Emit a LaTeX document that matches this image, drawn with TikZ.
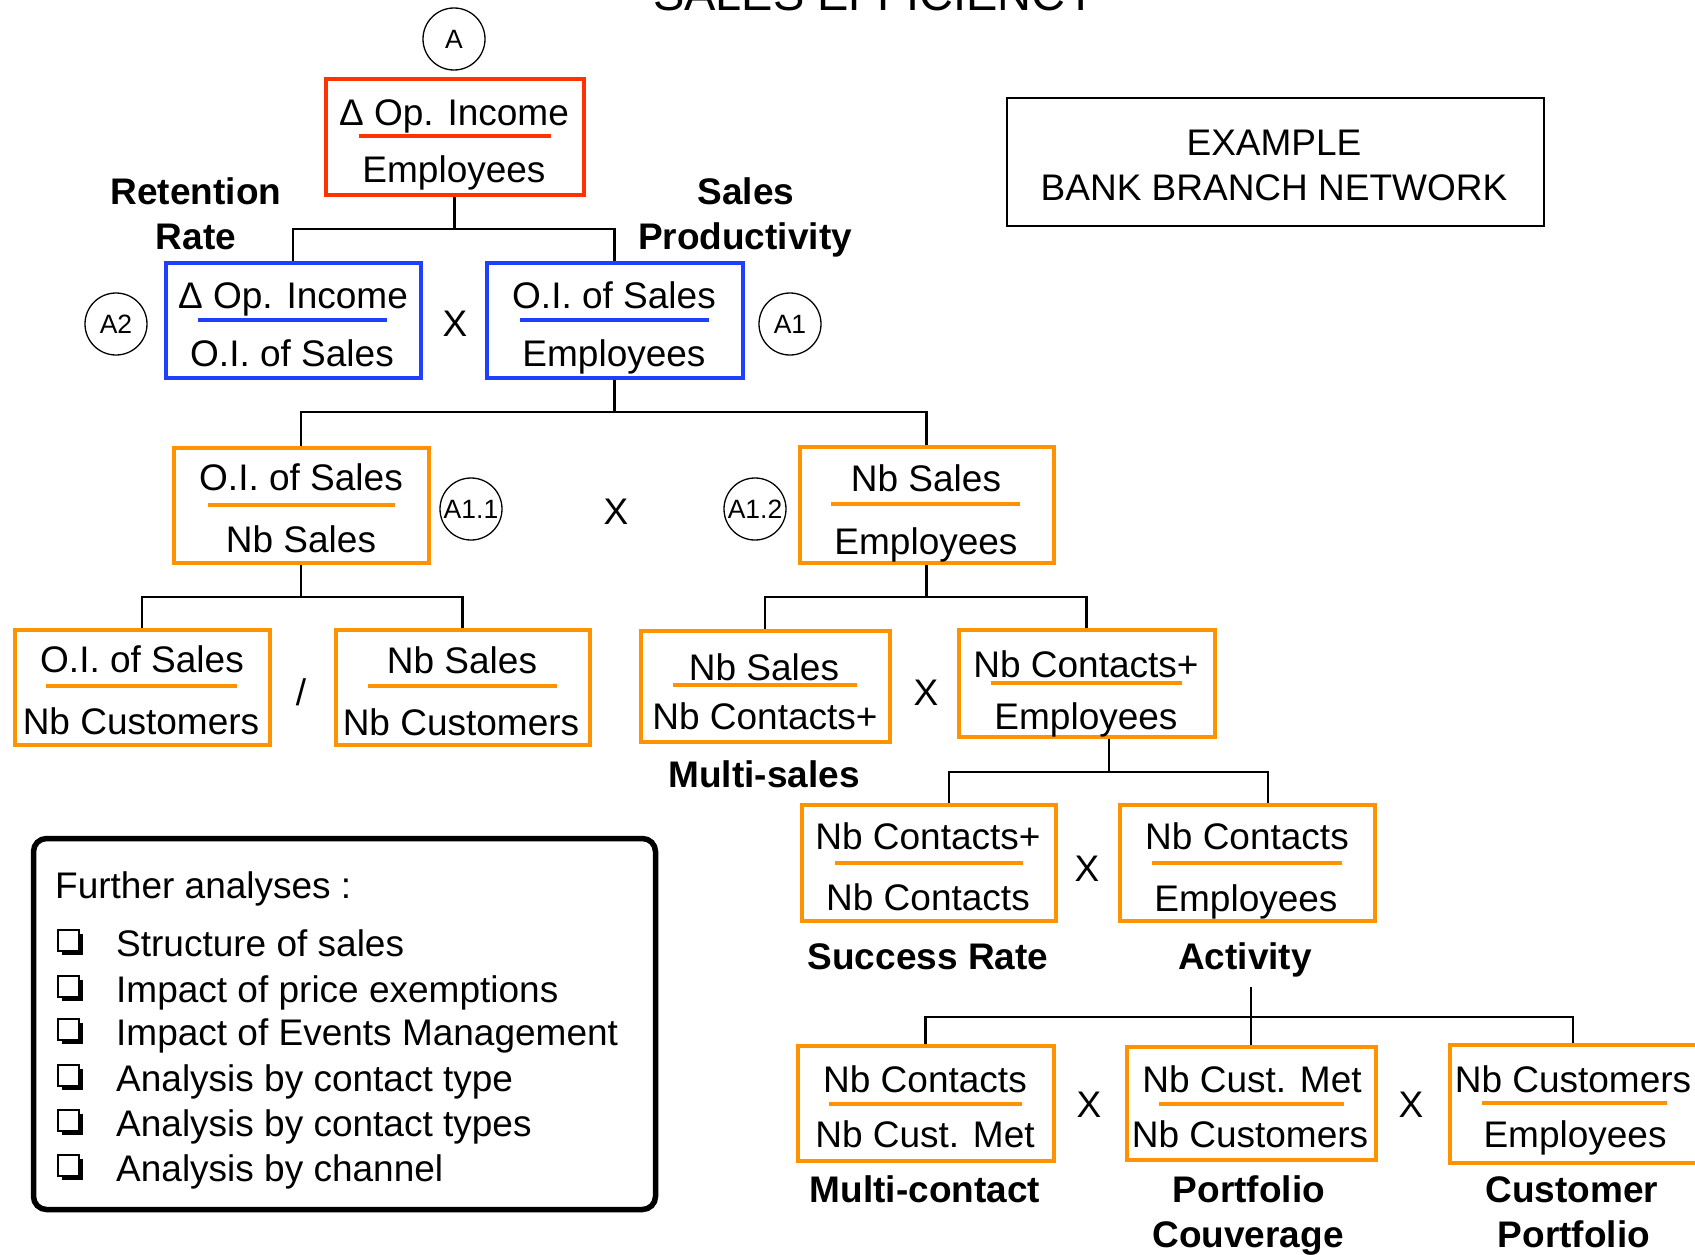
\documentclass[tikz,border=0pt]{standalone}
\usepackage{fontspec}
\setmainfont{Liberation Sans}
\usetikzlibrary{calc}
\definecolor{boxred}{HTML}{FF3300}
\definecolor{boxblue}{HTML}{1F3FFF}
\definecolor{boxorange}{HTML}{FF9200}

\begin{document}
\begin{tikzpicture}[x=1pt,y=-1pt,
  txt/.style={inner sep=0pt, text height=26.5pt, text depth=0pt, font=\fontsize{37}{44}\selectfont},
  lbl/.style={inner sep=0pt, text height=26.5pt, text depth=0pt, font=\fontsize{37}{44}\selectfont\bfseries},
  fracbox/.style={draw=#1, line width=4pt, inner sep=0pt, rectangle},
  fline/.style={draw=#1, line width=3.8pt},
  conn/.style={line width=2.2pt},
  circ/.style={circle, draw, line width=1.3pt, minimum size=62pt, inner sep=0pt,
    text height=19pt, text depth=0pt, font=\fontsize{26.5}{30}\selectfont},
  chk/.pic={
    \fill (-8,-8) rectangle (13,13);
    \draw[line width=2pt, fill=white] (-12,-12) rectangle (9,9);
  }
]
\useasboundingbox (0,0) rectangle (1695,1255);

% heading, partly above the page edge
\node[inner sep=0pt, anchor=base, font=\fontsize{47}{50}\selectfont] (title) at (875,11) {SALES EFFICIENCY};

% example frame
\node[draw, line width=2.5pt, minimum width=537pt, minimum height=128pt, inner sep=0pt] (example) at (1275.5,162) {};
\node[txt] (exa) at (1274,142) {EXAMPLE};
\node[txt] (exb) at (1274,187) {BANK BRANCH NETWORK};

% ---- level A ----
\node[circ] (cA) at (454,39) {A};
\node[fracbox=boxred, minimum width=258pt, minimum height=115pt] (A) at (454.5,137) {};
\node[txt] (An) at (454,112) {Δ Op. Income};
\node[txt] (Ad) at (454,169) {Employees};
\draw[fline=boxred] (359,136) -- (551,136);

\node[lbl] (ret1) at (196,191) {Retention};
\node[lbl] (ret2) at (196,236) {Rate};
\node[lbl] (sp1) at (746,191) {Sales};
\node[lbl] (sp2) at (745,236) {Productivity};

% ---- level A1 / A2 ----
\node[circ] (cA2) at (116,324) {A2};
\node[fracbox=boxblue, minimum width=255pt, minimum height=115pt] (A2) at (293,320) {};
\node[txt] (A2n) at (293,295) {Δ Op. Income};
\node[txt] (A2d) at (292,353) {O.I. of Sales};
\draw[fline=boxblue] (198,320) -- (387,320);

\node[txt] (x1) at (455,323) {X};

\node[fracbox=boxblue, minimum width=256pt, minimum height=115pt] (A1) at (614.5,320) {};
\node[txt] (A1n) at (614,295) {O.I. of Sales};
\node[txt] (A1d) at (614,353) {Employees};
\draw[fline=boxblue] (520,320) -- (709,320);
\node[circ] (cA1) at (790,324) {A1};

% ---- level A1.1 / A1.2 ----
\node[fracbox=boxorange, minimum width=255pt, minimum height=115pt] (A11) at (301,505) {};
\node[txt] (A11n) at (301,477) {O.I. of Sales};
\node[txt] (A11d) at (301,539) {Nb Sales};
\draw[fline=boxorange] (208,505) -- (395,505);
\node[circ] (cA11) at (471,509) {A1.1};

\node[txt] (x2) at (616,511) {X};

\node[circ] (cA12) at (755,509) {A1.2};
\node[fracbox=boxorange, minimum width=254pt, minimum height=116pt] (A12) at (926.5,504.5) {};
\node[txt] (A12n) at (926,478) {Nb Sales};
\node[txt] (A12d) at (926,541) {Employees};
\draw[fline=boxorange] (831,504) -- (1020,504);

% ---- under A1.1 ----
\node[fracbox=boxorange, minimum width=255pt, minimum height=115pt] (B1) at (142,687) {};
\node[txt] (B1n) at (142,659) {O.I. of Sales};
\node[txt] (B1d) at (141,721) {Nb Customers};
\draw[fline=boxorange] (46,686) -- (237,686);

\node[txt] (slash) at (301,692) {/};

\node[fracbox=boxorange, minimum width=254pt, minimum height=115pt] (B2) at (462.5,687) {};
\node[txt] (B2n) at (462,660) {Nb Sales};
\node[txt] (B2d) at (461,722) {Nb Customers};
\draw[fline=boxorange] (368,686) -- (557,686);

% ---- under A1.2 ----
\node[fracbox=boxorange, minimum width=249pt, minimum height=111pt] (MS) at (765,686) {};
\node[txt] (MSn) at (764,667) {Nb Sales};
\node[txt] (MSd) at (765,716) {Nb Contacts+};
\draw[fline=boxorange] (673,685) -- (857,685);
\node[lbl] (MSl) at (764,774) {Multi-sales};

\node[txt] (x3) at (926,692) {X};

\node[fracbox=boxorange, minimum width=256pt, minimum height=107pt] (CE) at (1086.5,683) {};
\node[txt] (CEn) at (1086,664) {Nb Contacts+};
\node[txt] (CEd) at (1086,716) {Employees};
\draw[fline=boxorange] (991,683) -- (1182,683);

% ---- success rate / activity ----
\node[fracbox=boxorange, minimum width=254pt, minimum height=116pt] (SR) at (928.5,862.5) {};
\node[txt] (SRn) at (928,836) {Nb Contacts+};
\node[txt] (SRd) at (928,897) {Nb Contacts};
\draw[fline=boxorange] (835,863) -- (1023,863);
\node[lbl] (SRl) at (928,956) {Success Rate};

\node[txt] (x4) at (1087,868) {X};

\node[fracbox=boxorange, minimum width=255pt, minimum height=116pt] (AC) at (1247,862.5) {};
\node[txt] (ACn) at (1247,836) {Nb Contacts};
\node[txt] (ACd) at (1246,898) {Employees};
\draw[fline=boxorange] (1152,863) -- (1342,863);
\node[lbl] (ACl) at (1245,956) {Activity};

% ---- bottom row ----
\node[fracbox=boxorange, minimum width=256pt, minimum height=115pt] (MC) at (925.5,1103) {};
\node[txt] (MCn) at (925,1079) {Nb Contacts};
\node[txt] (MCd) at (925,1134) {Nb Cust. Met};
\draw[fline=boxorange] (829,1104) -- (1022,1104);
\node[lbl] (MCl) at (925,1189) {Multi-contact};

\node[txt] (x5) at (1089,1104) {X};

\node[fracbox=boxorange, minimum width=249pt, minimum height=113pt] (PC) at (1251,1103) {};
\node[txt] (PCn) at (1252,1079) {Nb Cust. Met};
\node[txt] (PCd) at (1250,1134) {Nb Customers};
\draw[fline=boxorange] (1159,1104) -- (1344,1104);
\node[lbl] (PCl1) at (1249,1189) {Portfolio};
\node[lbl] (PCl2) at (1248,1234) {Couverage};

\node[txt] (x6) at (1411,1104) {X};

\node[fracbox=boxorange, minimum width=255pt, minimum height=118pt] (CP) at (1577,1103.5) {};
\node[txt] (CPn) at (1573,1079) {Nb Customers};
\node[txt] (CPd) at (1575,1134) {Employees};
\draw[fline=boxorange] (1482,1103) -- (1667,1103);
\node[lbl] (CPl1) at (1572,1189) {Customer};
\node[lbl] (CPl2) at (1574,1234) {Portfolio};

% ---- tree connectors ----
\coordinate (jA) at (454.5,229);
\draw[conn] (A.south) -- (jA);
\draw[conn] (A2.north) |- (jA) -| (A1.north);

\coordinate (jA1) at (614.5,412);
\draw[conn] (A1.south) -- (jA1);
\draw[conn] (A11.north) |- (jA1) -| (A12.north);

\coordinate (jA11) at (301,597);
\draw[conn] (A11.south) -- (jA11);
\draw[conn] (B1.north) |- (jA11) -| (B2.north);

\coordinate (jA12) at (926.5,597);
\draw[conn] (A12.south) -- (jA12);
\draw[conn] (MS.north) |- (jA12) -| (CE.north);

\coordinate (jCE) at (1109,772);
\draw[conn] ([xshift=22.5pt]CE.south) -- (jCE);
\draw[conn] ([xshift=20.5pt]SR.north) |- (jCE) -| ([xshift=21pt]AC.north);

\coordinate (jAC) at (1251,987);
\coordinate (jPC) at (1251,1017);
\draw[conn] (jAC) -- (PC.north);
\draw[conn] (MC.north) |- (jPC) -| ([xshift=-4pt]CP.north);

% ---- further analyses ----
\node[draw, line width=5.5pt, rounded corners=13pt, minimum width=622pt, minimum height=371pt, inner sep=0pt] (further) at (344.5,1024) {};
\node[txt, anchor=west] (fa) at (55,885) {Further analyses :};
\pic at (70,942) {chk};
\node[txt, anchor=west] (fa1) at (116,943) {Structure of sales};
\pic at (70,988) {chk};
\node[txt, anchor=west] (fa2) at (116,989) {Impact of price exemptions};
\pic at (70,1031) {chk};
\node[txt, anchor=west] (fa3) at (116,1032) {Impact of Events Management};
\pic at (70,1077) {chk};
\node[txt, anchor=west] (fa4) at (116,1078) {Analysis by contact type};
\pic at (70,1122) {chk};
\node[txt, anchor=west] (fa5) at (116,1123) {Analysis by contact types};
\pic at (70,1167) {chk};
\node[txt, anchor=west] (fa6) at (116,1168) {Analysis by channel};
\end{tikzpicture}
\end{document}
